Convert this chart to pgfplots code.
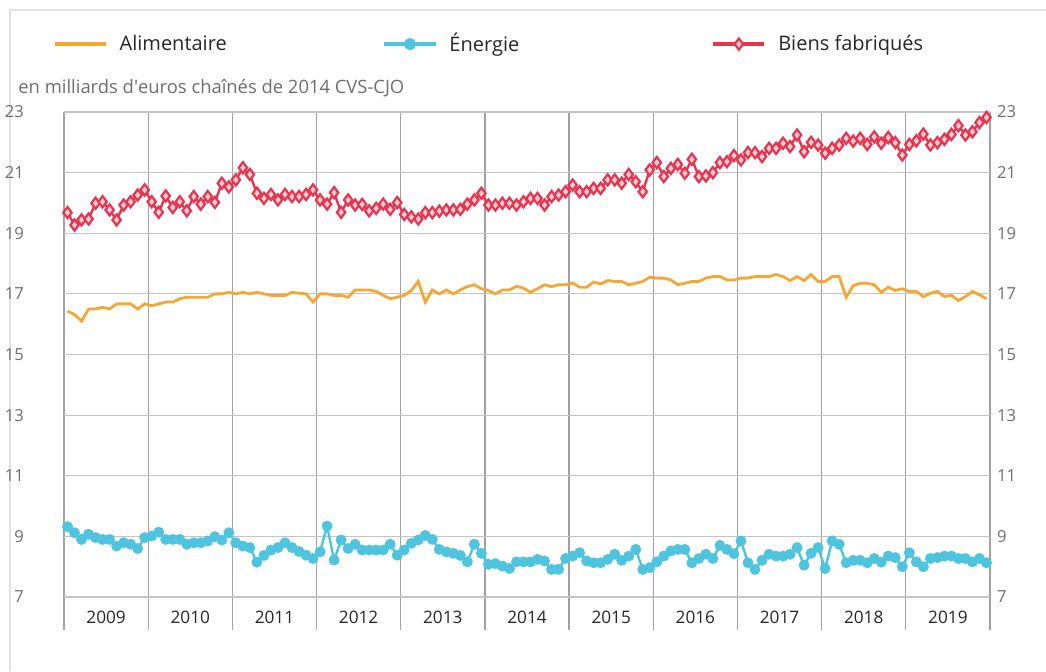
\documentclass[border=0pt]{standalone}
\usepackage{fontspec}
\setmainfont{Open Sans}
\usepackage{pgfplots}
\pgfplotsset{compat=1.18}
\usepackage{pgfplotstable}

\definecolor{ali}{HTML}{F5A733}
\definecolor{ene}{HTML}{4EC4DF}
\definecolor{bie}{HTML}{E8344E}
\definecolor{biefill}{HTML}{F7CDD3}
\definecolor{gridc}{HTML}{C4C4C4}
\definecolor{yeargrid}{HTML}{A2A2A2}
\definecolor{navy}{HTML}{2E3192}
\definecolor{tickc}{HTML}{6E6E6E}
\definecolor{framec}{HTML}{E2E2E2}

\newcommand\legtxt[2]{\makebox[#1][l]{\hspace{4pt}#2}}

% m = month index (0 = Jan 2009), values in bn euros
\pgfplotstableread{
m ali ene bie
0 16.43 9.32 19.68
1 16.32 9.12 19.27
2 16.10 8.90 19.44
3 16.50 9.07 19.47
4 16.50 8.96 19.99
5 16.56 8.90 20.04
6 16.50 8.90 19.77
7 16.67 8.68 19.44
8 16.67 8.79 19.93
9 16.67 8.74 20.04
10 16.50 8.60 20.26
11 16.67 8.96 20.43
12 16.61 9.01 20.04
13 16.67 9.14 19.69
14 16.73 8.90 20.23
15 16.73 8.90 19.85
16 16.84 8.90 20.04
17 16.89 8.74 19.74
18 16.89 8.79 20.21
19 16.89 8.79 19.96
20 16.89 8.85 20.21
21 17.00 8.99 20.02
22 17.00 8.88 20.65
23 17.05 9.12 20.53
24 17.00 8.79 20.76
25 17.05 8.68 21.16
26 17.00 8.63 20.94
27 17.05 8.15 20.32
28 17.00 8.37 20.15
29 16.95 8.55 20.28
30 16.95 8.63 20.10
31 16.95 8.79 20.28
32 17.05 8.63 20.21
33 17.02 8.50 20.21
34 17.00 8.38 20.28
35 16.73 8.27 20.43
36 17.00 8.49 20.10
37 17.00 9.34 19.96
38 16.95 8.22 20.34
39 16.95 8.88 19.69
40 16.89 8.60 20.10
41 17.13 8.74 19.93
42 17.13 8.55 19.95
43 17.13 8.55 19.74
44 17.08 8.55 19.82
45 16.95 8.55 19.96
46 16.84 8.74 19.79
47 16.89 8.38 20.01
48 16.95 8.55 19.62
49 17.11 8.77 19.54
50 17.41 8.88 19.47
51 16.73 9.03 19.68
52 17.13 8.90 19.68
53 17.00 8.57 19.73
54 17.13 8.49 19.77
55 17.00 8.44 19.77
56 17.13 8.37 19.79
57 17.24 8.16 19.96
58 17.30 8.74 20.10
59 17.17 8.44 20.32
60 17.11 8.08 19.93
61 17.00 8.10 19.93
62 17.13 8.02 19.99
63 17.13 7.94 19.99
64 17.25 8.16 19.93
65 17.19 8.16 20.04
66 17.05 8.16 20.15
67 17.17 8.24 20.15
68 17.30 8.19 19.93
69 17.24 7.91 20.21
70 17.30 7.91 20.26
71 17.30 8.27 20.37
72 17.36 8.35 20.59
73 17.22 8.46 20.37
74 17.22 8.19 20.37
75 17.39 8.13 20.48
76 17.33 8.13 20.48
77 17.44 8.24 20.76
78 17.41 8.41 20.76
79 17.41 8.21 20.65
80 17.30 8.35 20.94
81 17.35 8.57 20.70
82 17.41 7.91 20.37
83 17.55 7.97 21.09
84 17.52 8.16 21.33
85 17.52 8.35 20.87
86 17.46 8.52 21.14
87 17.30 8.57 21.27
88 17.35 8.57 20.98
89 17.41 8.13 21.44
90 17.41 8.27 20.87
91 17.52 8.41 20.89
92 17.57 8.27 21.00
93 17.57 8.70 21.33
94 17.46 8.57 21.36
95 17.46 8.43 21.56
96 17.52 8.85 21.42
97 17.52 8.13 21.66
98 17.57 7.91 21.66
99 17.57 8.21 21.53
100 17.57 8.41 21.80
101 17.64 8.35 21.80
102 17.57 8.35 21.97
103 17.44 8.41 21.86
104 17.57 8.63 22.24
105 17.44 8.05 21.69
106 17.64 8.44 22.00
107 17.41 8.63 21.91
108 17.41 7.94 21.64
109 17.57 8.85 21.80
110 17.57 8.74 21.91
111 16.89 8.13 22.13
112 17.27 8.21 22.04
113 17.35 8.21 22.13
114 17.35 8.13 21.93
115 17.30 8.27 22.18
116 17.05 8.15 21.97
117 17.22 8.35 22.16
118 17.11 8.30 21.99
119 17.17 8.00 21.58
120 17.08 8.46 21.93
121 17.08 8.16 22.05
122 16.91 8.00 22.27
123 17.02 8.27 21.91
124 17.08 8.30 21.99
125 16.91 8.35 22.10
126 16.95 8.35 22.26
127 16.78 8.27 22.55
128 16.91 8.27 22.24
129 17.08 8.16 22.35
130 16.97 8.27 22.65
131 16.84 8.13 22.82
}\data

\begin{document}
\begin{tikzpicture}
\path[use as bounding box] (0pt,0pt) rectangle (523pt,335.5pt);
\draw[framec, line width=1pt] (5pt,0pt) -- (5pt,330.5pt) -- (523pt,330.5pt);

\begin{axis}[
  at={(32pt,37pt)}, anchor=south west,
  scale only axis, width=463pt, height=242.5pt,
  xmin=-0.5, xmax=131.5, ymin=7, ymax=23,
  axis line style={draw=none},
  /pgf/number format/assume math mode=true,
  ytick={7,9,...,23},
  ymajorgrids, y grid style={gridc, line width=0.6pt},
  ytick style={draw=none},
  yticklabel style={text=tickc, font=\fontsize{8.3}{9}\selectfont},
  extra y ticks={7}, extra y tick labels={},
  extra y tick style={grid style={navy, line width=0.9pt}},
  xtick={-0.5,11.5,...,131.5}, xticklabels={},
  xtick pos=bottom,
  xmajorgrids, x grid style={yeargrid, line width=0.6pt},
  tick align=outside,
  major x tick style={yeargrid, line width=0.6pt},
  major tick length=16.5pt,
  extra x ticks={5.5,17.5,29.5,41.5,53.5,65.5,77.5,89.5,101.5,113.5,125.5},
  extra x tick labels={2009,2010,2011,2012,2013,2014,2015,2016,2017,2018,2019},
  extra x tick style={xmajorgrids=false, major tick length=0pt,
    xticklabel style={text=black!85, font=\fontsize{8.6}{9}\selectfont, yshift=-3.5pt}},
  legend columns=3,
  legend cell align=left,
  legend image code/.code={\draw[mark repeat=2,mark phase=2,#1,line width=1.8pt] plot coordinates {(0cm,0cm) (0.45cm,0cm) (0.9cm,0cm)};},
  legend style={draw=none, fill=none, inner sep=0pt,
    at={(axis description cs:-0.0125,1.14)}, anchor=west,
    font=\fontsize{10}{12}\selectfont, text=black!85},
]
\addplot[ali, line width=1.4pt, no markers] table[x=m, y=ali] {\data};
\addlegendentry{\legtxt{133.5pt}{Alimentaire}}
\addplot[ene, line width=1.2pt, mark=*, mark size=2.1pt,
  mark options={fill=ene, draw=ene}] table[x=m, y=ene] {\data};
\addlegendentry{\legtxt{133pt}{Énergie}}
\addplot[bie, line width=1.2pt, mark=diamond*, mark size=2.8pt,
  mark options={fill=biefill, draw=bie, line width=1.1pt}] table[x=m, y=bie] {\data};
\addlegendentry{\hspace{4pt}Biens fabriqués}
\end{axis}

\begin{axis}[
  at={(32pt,37pt)}, anchor=south west,
  scale only axis, width=463pt, height=242.5pt,
  xmin=-0.5, xmax=131.5, ymin=7, ymax=23,
  hide x axis, axis y line*=right,
  y axis line style={draw=none},
  /pgf/number format/assume math mode=true,
  ytick={7,9,...,23}, ytick style={draw=none},
  yticklabel style={text=tickc, font=\fontsize{8.3}{9}\selectfont},
]
\end{axis}

\node[anchor=west, inner sep=0pt, text=tickc, font=\fontsize{9.2}{11}\selectfont] at (9pt,291.5pt) {en milliards d\textquotesingle euros chaînés de 2014 CVS-CJO};
\end{tikzpicture}
\end{document}
